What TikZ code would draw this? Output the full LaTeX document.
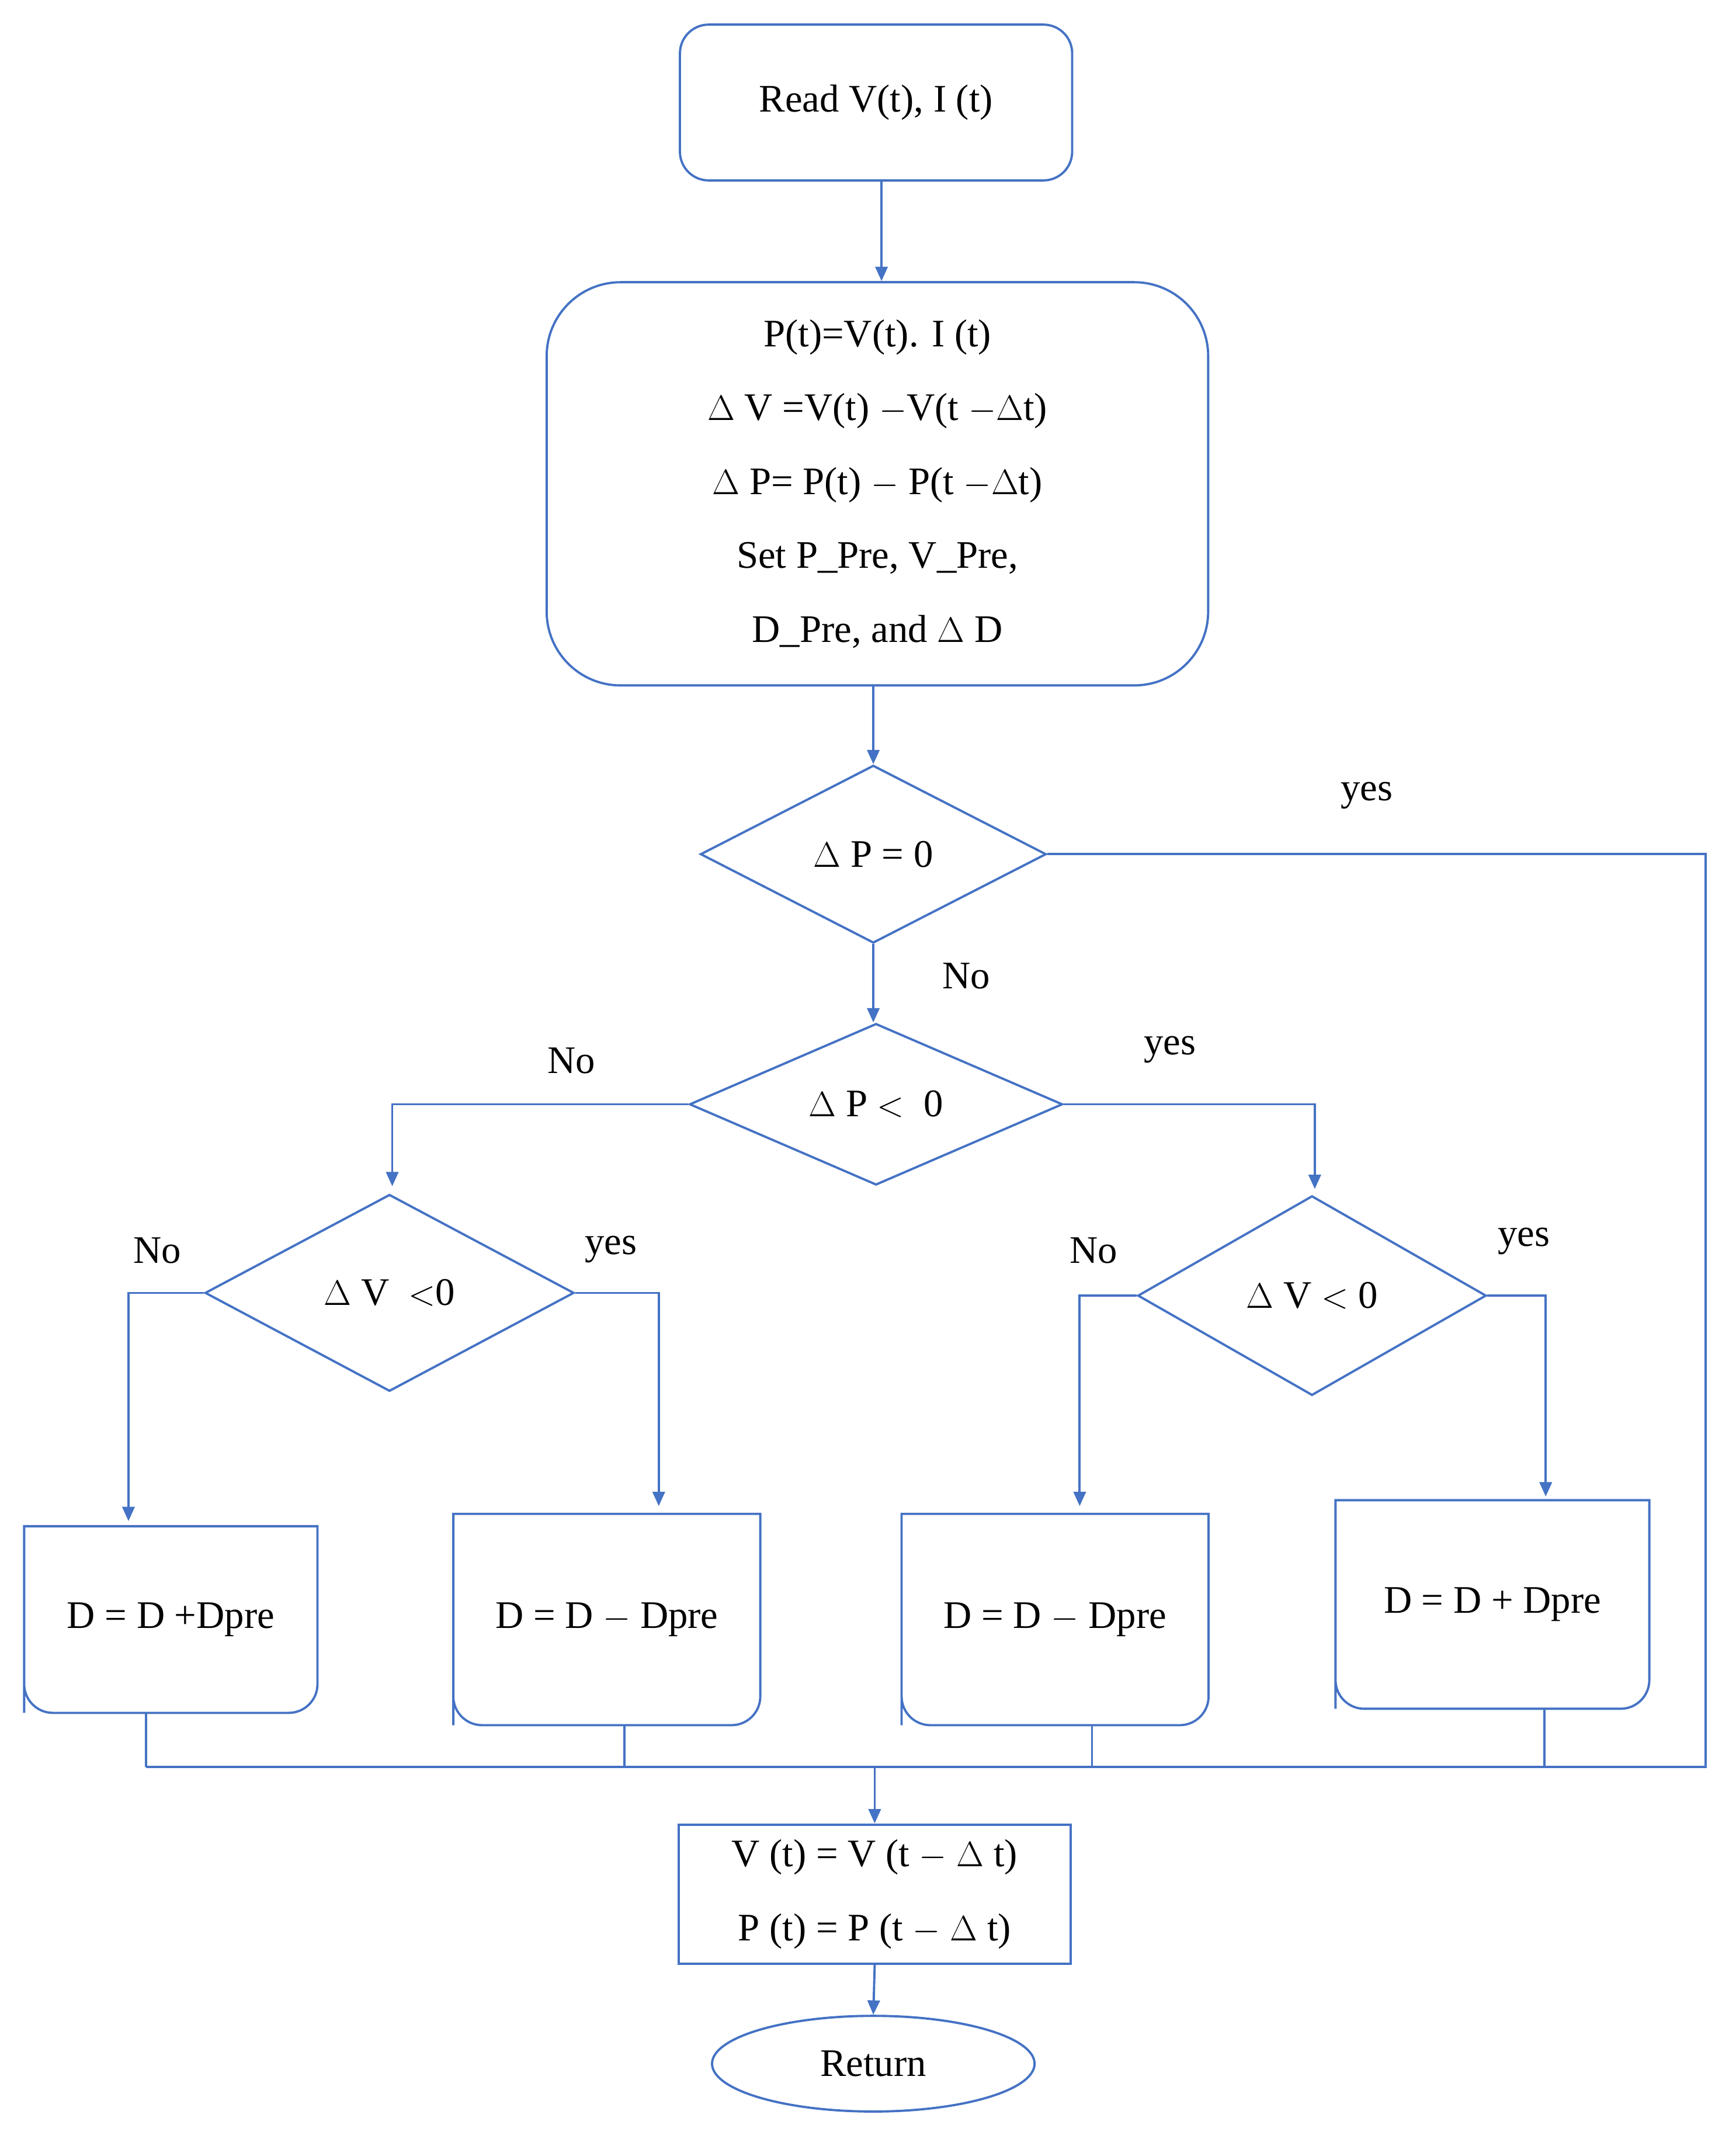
\documentclass[tikz,border=0pt]{standalone}
\usepackage{fontspec}
\setmainfont{Liberation Serif}
\usetikzlibrary{shapes.geometric,arrows.meta}
\definecolor{ln}{RGB}{68,114,196}
\begin{document}
\begin{tikzpicture}[x=0.0234cm,y=-0.0234cm,
  every node/.style={font=\fontsize{19}{36}\selectfont, text=black, inner sep=0pt},
  ln/.style={draw=ln, line width=1.1pt},
  arr/.style={ln, -{Triangle[length=7pt,width=6pt]}},
  dia/.style={diamond, ln},
  lab/.style={font=\fontsize{19}{23}\selectfont}]
\useasboundingbox (0,0) rectangle (1270,1560);
\node[ln, rounded corners=14pt, minimum width=287*0.0234cm, minimum height=114*0.0234cm] (read) at (641,75) {Read V(t), I (t)};
\node[ln, rounded corners=36pt, minimum width=484*0.0234cm, minimum height=295*0.0234cm, align=center] (calc) at (642,354)
 {P(t)=V(t). I (t)\\ $\Delta$ V =V(t) $-$V(t $-\Delta$t)\\ $\Delta$ P= P(t) $-$ P(t $-\Delta$t)\\ Set P\_Pre, V\_Pre,\\ D\_Pre, and $\Delta$ D};
\node[dia, minimum width=253*0.0234cm, minimum height=130*0.0234cm] (d1) at (639,625) {$\Delta$ P = 0};
\node[dia, minimum width=273*0.0234cm, minimum height=116*0.0234cm] (d2) at (641,808) {$\Delta$ P $<$\ \ 0};
\node[dia, minimum width=270*0.0234cm, minimum height=144*0.0234cm] (d3) at (285,946) {$\Delta$ V\ \ $<$0};
\node[dia, minimum width=255*0.0234cm, minimum height=146*0.0234cm] (d4) at (960,948) {$\Delta$ V $<$ 0};
\node[minimum width=214*0.0234cm, minimum height=136*0.0234cm] (b1) at (125,1185) {D = D +Dpre};
\node[minimum width=224*0.0234cm, minimum height=154*0.0234cm] (b2) at (444,1185) {D = D $-$ Dpre};
\node[minimum width=224*0.0234cm, minimum height=154*0.0234cm] (b3) at (772,1185) {D = D $-$ Dpre};
\node[minimum width=229*0.0234cm, minimum height=152*0.0234cm] (b4) at (1092,1174) {D = D + Dpre};
\foreach \b in {b1,b2,b3,b4}{
  \draw[ln] (\b.south west) -- (\b.north west) -- (\b.north east) [rounded corners=14pt] -- (\b.south east) -- (\b.south west) [sharp corners] -- cycle;}
\node[ln, minimum width=287*0.0234cm, minimum height=102*0.0234cm, align=center] (upd) at (640,1386) {V (t) = V (t $-$ $\Delta$ t)\\ P (t) = P (t $-$ $\Delta$ t)};
\node[ellipse, ln, minimum width=236*0.0234cm, minimum height=70*0.0234cm] (ret) at (639,1510) {Return};
\coordinate (m1) at (107,1293); \coordinate (m4) at (1248,1293);
\coordinate (mc) at (640,1293);
\draw[arr] (read.south -| 645,0) -- (calc.north -| 645,0);
\draw[arr] (calc.south -| d1) -- (d1.north);
\draw[arr] (d1.south) -- (d2.north -| d1);
\draw[arr] (d2.west) -| (287,868);
\draw[arr] (d2.east) -| (962,870);
\draw[arr] (d3.west) -| (94,1113);
\draw[arr] (d3.east) -| (482,1102);
\draw[arr] (d4.west) -| (790,1102);
\draw[arr] (d4.east) -| (1131,1095);
\draw[ln] (d1.east) -| (m4) -- (m1);
\draw[ln] (m1) -- (m1 |- b1.south);
\draw[ln] (457,1293) -- (457,1262);
\draw[ln] (799,1293) -- (799,1262);
\draw[ln] (1130,1293) -- (1130,1250);
\draw[arr] (mc) -- (upd.north);
\draw[arr] (upd.south) -- (ret.north);
\node[lab] at (1000,582) {yes};
\node[lab] at (707,714) {No};
\node[lab] at (418,776) {No};
\node[lab] at (856,768) {yes};
\node[lab] at (115,915) {No};
\node[lab] at (447,914) {yes};
\node[lab] at (800,915) {No};
\node[lab] at (1115,908) {yes};
\end{tikzpicture}
\end{document}
